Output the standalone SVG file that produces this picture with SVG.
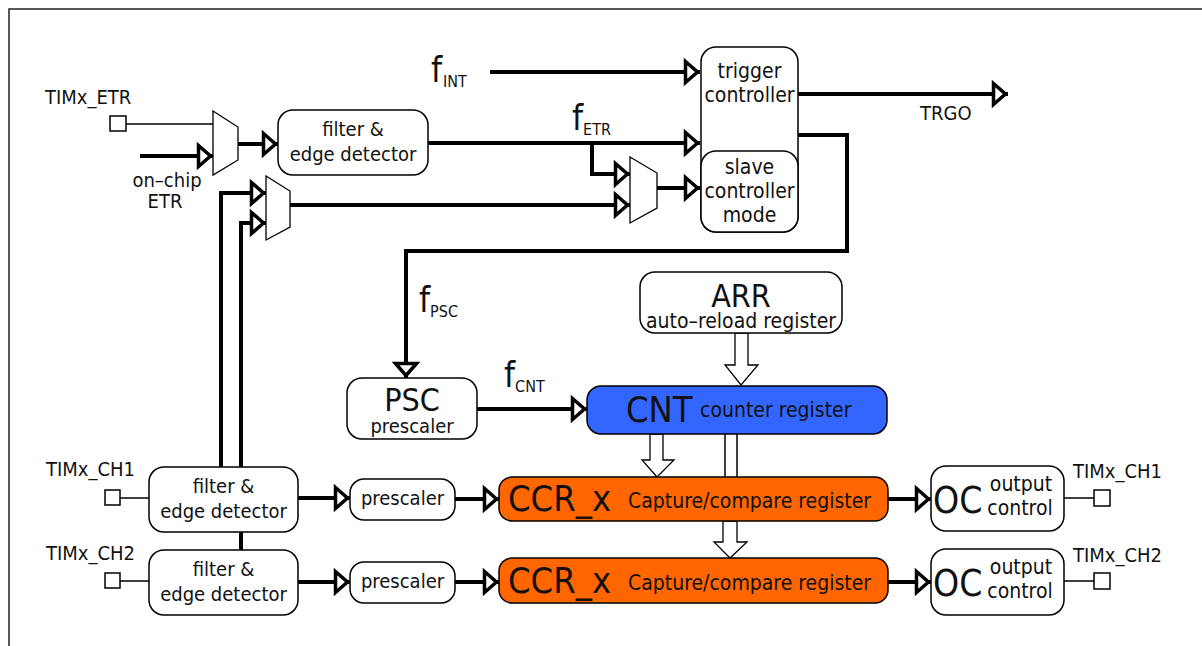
<svg xmlns="http://www.w3.org/2000/svg" width="1202" height="646" viewBox="0 0 1202 646">
  <defs>
    <style>
      .frame { fill: none; stroke: #222; stroke-width: 1.5; }
      .box { fill: #fff; stroke: #000; stroke-width: 1.5; }
      .cnt { fill: #3366ff; stroke: #000; stroke-width: 1.5; }
      .ccr { fill: #ff6600; stroke: #000; stroke-width: 1.5; }
      .mux { fill: #fff; stroke: #000; stroke-width: 1.3; }
      .pin { fill: #fff; stroke: #000; stroke-width: 1.5; }
      .thick { fill: none; stroke: #000; stroke-width: 4; }
      .thin { fill: none; stroke: #000; stroke-width: 1.5; }
      .bus { fill: #fff; stroke: #000; stroke-width: 1.3; }
      .t { font-family: "DejaVu Sans Condensed", "DejaVu Sans", sans-serif; font-stretch: condensed; fill: #111; font-size: 20px; }
      .m { text-anchor: middle; }
      .s21 { font-size: 21px; }
      .big { font-size: 36px; }
      .reg { font-size: 32px; }
      .oc { font-size: 37px; }
      .fq { font-size: 35px; }
      .sub { font-size: 16px; }
    </style>
    <marker id="arrow" markerUnits="userSpaceOnUse" viewBox="-20 -15 24 30" markerWidth="24" markerHeight="30" refX="0" refY="0" orient="auto">
      <path d="M-14.5,-10.5 L-2.5,0 L-14.5,10.5 Z" fill="#fff" stroke="#000" stroke-width="3.5"/>
    </marker>
  </defs>

  <rect width="1202" height="646" fill="#fff"/>
  <path class="frame" d="M9,646 V9 H1202"/>

  <g id="connectors">
    <!-- external trigger path -->
    <line class="thin" x1="126" y1="124" x2="213" y2="124"/>
    <line class="thick" x1="140" y1="156" x2="213" y2="156" marker-end="url(#arrow)"/>
    <line class="thick" x1="238" y1="144" x2="278" y2="144" marker-end="url(#arrow)"/>
    <line class="thick" x1="428" y1="143" x2="700" y2="143" marker-end="url(#arrow)"/>
    <polyline class="thick" points="592,143 592,174 630,174" marker-end="url(#arrow)"/>
    <line class="thick" x1="290" y1="205" x2="630" y2="205" marker-end="url(#arrow)"/>
    <line class="thick" x1="657" y1="188" x2="700" y2="188" marker-end="url(#arrow)"/>
    <line class="thick" x1="490" y1="72" x2="700" y2="72" marker-end="url(#arrow)"/>
    <line class="thick" x1="798" y1="94" x2="1008" y2="94" marker-end="url(#arrow)"/>
    <!-- channel inputs feeding the trigger selector -->
    <polyline class="thick" points="221,467 221,193 266,193" marker-end="url(#arrow)"/>
    <polyline class="thick" points="241,550 241,223 266,223" marker-end="url(#arrow)"/>
    <!-- prescaler clock loop -->
    <polyline class="thick" points="798,135 847,135 847,251 406,251 406,378" marker-end="url(#arrow)"/>
    <line class="thick" x1="477" y1="409" x2="587" y2="409" marker-end="url(#arrow)"/>
    <!-- channel paths -->
    <line class="thin" x1="120" y1="498" x2="149" y2="498"/>
    <line class="thin" x1="120" y1="581" x2="149" y2="581"/>
    <line class="thick" x1="298" y1="498" x2="350" y2="498" marker-end="url(#arrow)"/>
    <line class="thick" x1="298" y1="582" x2="350" y2="582" marker-end="url(#arrow)"/>
    <line class="thick" x1="455" y1="499" x2="499" y2="499" marker-end="url(#arrow)"/>
    <line class="thick" x1="455" y1="582" x2="499" y2="582" marker-end="url(#arrow)"/>
    <line class="thick" x1="888" y1="499" x2="931" y2="499" marker-end="url(#arrow)"/>
    <line class="thick" x1="888" y1="582" x2="931" y2="582" marker-end="url(#arrow)"/>
    <line class="thin" x1="1064" y1="498" x2="1094" y2="498"/>
    <line class="thin" x1="1064" y1="581" x2="1094" y2="581"/>
    <!-- register buses -->
    <polygon class="bus" points="735,333 748,333 748,365 758,365 741,385 725,365 735,365"/>
    <polygon class="bus" points="650,434 663,434 663,460 674,460 657,477 642,460 650,460"/>
    <line class="thin" x1="725" y1="434" x2="725" y2="477"/>
    <line class="thin" x1="737" y1="434" x2="737" y2="477"/>
    <polygon class="bus" points="723,521 737,521 737,542 747,542 730,558 714,542 723,542"/>
  </g>

  <g id="etr-pin">
    <text class="t" x="45" y="104">TIMx_ETR</text>
    <rect class="pin" x="110" y="116" width="16" height="15"/>
  </g>
  <g id="onchip-etr">
    <text class="t m" x="167" y="187">on–chip</text>
    <text class="t m" x="165" y="208">ETR</text>
  </g>
  <g id="etr-mux">
    <polygon class="mux" points="213,111 238,127 238,160 213,175"/>
  </g>
  <g id="etr-filter">
    <rect class="box" x="278" y="110" width="150" height="65" rx="15"/>
    <text class="t m" x="353" y="136">filter &amp;</text>
    <text class="t m" x="353" y="161">edge detector</text>
  </g>
  <g id="ti-mux">
    <polygon class="mux" points="266,176 290,191 290,227 266,240"/>
  </g>
  <g id="trigger-mux">
    <polygon class="mux" points="630,157 657,173 657,208 630,223"/>
  </g>
  <g id="f-int">
    <text class="t" x="431" y="82"><tspan class="fq">f</tspan><tspan class="sub" dx="1" dy="5">INT</tspan></text>
  </g>
  <g id="f-etr">
    <text class="t" x="572" y="130"><tspan class="fq">f</tspan><tspan class="sub" dy="5">ETR</tspan></text>
  </g>
  <g id="trigger-controller">
    <rect class="box" x="701" y="47" width="97" height="185" rx="15"/>
    <text class="t s21 m" x="749.5" y="78">trigger</text>
    <text class="t s21 m" x="749.5" y="102">controller</text>
  </g>
  <g id="slave-controller">
    <rect class="box" x="701" y="151" width="97" height="81" rx="15"/>
    <text class="t s21 m" x="749.5" y="174">slave</text>
    <text class="t s21 m" x="749.5" y="198">controller</text>
    <text class="t s21 m" x="749.5" y="222">mode</text>
  </g>
  <g id="trgo">
    <text class="t" x="920" y="120">TRGO</text>
  </g>
  <g id="f-psc">
    <text class="t" x="419" y="312"><tspan class="fq">f</tspan><tspan class="sub" dy="5">PSC</tspan></text>
  </g>
  <g id="psc">
    <rect class="box" x="347" y="378" width="130" height="61" rx="15"/>
    <text class="t reg m" x="412" y="411">PSC</text>
    <text class="t m" x="412" y="433">prescaler</text>
  </g>
  <g id="f-cnt">
    <text class="t" x="504" y="387"><tspan class="fq">f</tspan><tspan class="sub" dy="5">CNT</tspan></text>
  </g>
  <g id="arr">
    <rect class="box" x="640" y="272" width="202" height="61" rx="15"/>
    <text class="t reg m" x="741" y="307">ARR</text>
    <text class="t s21 m" x="741" y="328">auto–reload register</text>
  </g>
  <g id="cnt">
    <rect class="cnt" x="587" y="386" width="300" height="48" rx="14"/>
    <text class="t big" x="626" y="422">CNT</text>
    <text class="t s21" x="700" y="417">counter register</text>
  </g>
  <g id="ch1-pin">
    <text class="t" x="46" y="476">TIMx_CH1</text>
    <rect class="pin" x="105" y="490" width="15" height="15"/>
  </g>
  <g id="ch2-pin">
    <text class="t" x="46" y="560">TIMx_CH2</text>
    <rect class="pin" x="105" y="573" width="15" height="15"/>
  </g>
  <g id="ch1-filter">
    <rect class="box" x="149" y="467" width="149" height="65" rx="15"/>
    <text class="t m" x="223.5" y="493">filter &amp;</text>
    <text class="t m" x="223.5" y="518">edge detector</text>
  </g>
  <g id="ch2-filter">
    <rect class="box" x="149" y="550" width="149" height="65" rx="15"/>
    <text class="t m" x="223.5" y="576">filter &amp;</text>
    <text class="t m" x="223.5" y="601">edge detector</text>
  </g>
  <g id="ch1-prescaler">
    <rect class="box" x="350" y="479" width="105" height="41" rx="14"/>
    <text class="t m" x="402.5" y="505">prescaler</text>
  </g>
  <g id="ch2-prescaler">
    <rect class="box" x="350" y="562" width="105" height="41" rx="14"/>
    <text class="t m" x="402.5" y="588">prescaler</text>
  </g>
  <g id="ccr1">
    <rect class="ccr" x="499" y="477" width="389" height="44" rx="13"/>
    <text class="t big" x="508" y="511">CCR_x</text>
    <text class="t s21" x="628" y="508">Capture/compare register</text>
  </g>
  <g id="ccr2">
    <rect class="ccr" x="499" y="558" width="389" height="45" rx="13"/>
    <text class="t big" x="508" y="593">CCR_x</text>
    <text class="t s21" x="628" y="590">Capture/compare register</text>
  </g>
  <g id="oc1">
    <rect class="box" x="931" y="466" width="133" height="65" rx="15"/>
    <text class="t oc" x="933" y="513">OC</text>
    <text class="t s21 m" x="1021" y="491">output</text>
    <text class="t s21 m" x="1020" y="515">control</text>
  </g>
  <g id="oc2">
    <rect class="box" x="931" y="549" width="133" height="66" rx="15"/>
    <text class="t oc" x="933" y="596">OC</text>
    <text class="t s21 m" x="1021" y="574">output</text>
    <text class="t s21 m" x="1020" y="598">control</text>
  </g>
  <g id="ch1-out">
    <text class="t" x="1073" y="478">TIMx_CH1</text>
    <rect class="pin" x="1094" y="490" width="16" height="16"/>
  </g>
  <g id="ch2-out">
    <text class="t" x="1073" y="562">TIMx_CH2</text>
    <rect class="pin" x="1094" y="573" width="16" height="16"/>
  </g>
</svg>
